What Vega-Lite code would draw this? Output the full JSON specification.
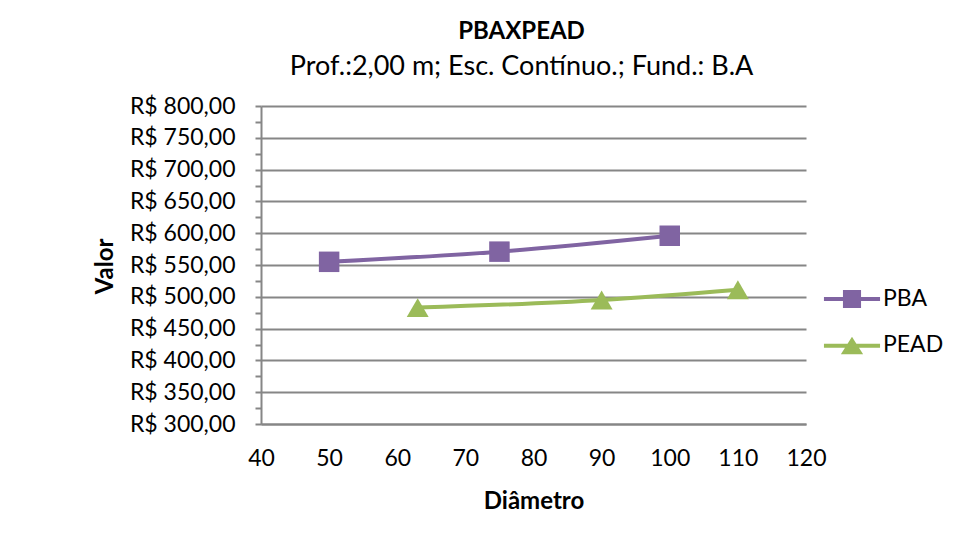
{
  "$schema": "https://vega.github.io/schema/vega-lite/v6.json",
  "width": 545,
  "height": 318,
  "autosize": "none",
  "padding": {"left": 261, "top": 106, "right": 153, "bottom": 114},
  "background": "white",
  "title": {
    "text": "PBAXPEAD",
    "subtitle": "Prof.:2,00 m; Esc. Contínuo.; Fund.: B.A",
    "anchor": "middle",
    "dx": -12,
    "font": "Lato",
    "fontSize": 24,
    "fontWeight": "bold",
    "color": "black",
    "subtitleFont": "Lato",
    "subtitleFontSize": 27,
    "subtitleColor": "black",
    "subtitlePadding": 10,
    "offset": 15
  },
  "data": {
    "values": [
      {"serie": "PBA", "diametro": 50, "valor": 555},
      {"serie": "PBA", "diametro": 75, "valor": 571},
      {"serie": "PBA", "diametro": 100, "valor": 596},
      {"serie": "PEAD", "diametro": 63, "valor": 483},
      {"serie": "PEAD", "diametro": 90, "valor": 495},
      {"serie": "PEAD", "diametro": 110, "valor": 511}
    ]
  },
  "encoding": {
    "x": {
      "field": "diametro",
      "type": "quantitative",
      "scale": {"domain": [40, 120], "nice": false, "zero": false},
      "axis": {
        "title": "Diâmetro",
        "values": [40, 50, 60, 70, 80, 90, 100, 110, 120],
        "grid": false,
        "ticks": false,
        "labelFlush": false,
        "labelOverlap": false,
        "labelPadding": 23,
        "titleY": 77,
        "titleBaseline": "middle"
      }
    },
    "y": {
      "field": "valor",
      "type": "quantitative",
      "scale": {"domain": [300, 800], "nice": false, "zero": false},
      "axis": {
        "title": "Valor",
        "values": [300, 325, 350, 375, 400, 425, 450, 475, 500, 525, 550, 575, 600, 625, 650, 675, 700, 725, 750, 775, 800],
        "labelExpr": "datum.value % 50 === 0 ? 'R$ ' + replace(format(datum.value, '.2f'), '.', ',') : ''",
        "labelFlush": false,
        "labelOverlap": false,
        "grid": true,
        "gridOpacity": {"condition": {"test": "datum.value % 50 === 0", "value": 1}, "value": 0},
        "tickSize": 6,
        "labelPadding": 20,
        "titleX": -156,
        "titleY": 160,
        "titleBaseline": "middle",
        "titleAngle": -90
      }
    }
  },
  "layer": [
    {
      "mark": {"type": "line", "strokeWidth": 4, "interpolate": "monotone"},
      "encoding": {
        "color": {
          "field": "serie",
          "type": "nominal",
          "scale": {"domain": ["PBA", "PEAD"], "range": ["#8064A2", "#9BBB59"]},
          "legend": {
            "title": null,
            "orient": "none",
            "legendX": 574,
            "legendY": 176,
            "symbolStrokeWidth": 4,
            "symbolSize": 900,
            "symbolOpacity": 1,
            "labelFont": "Lato",
            "labelFontSize": 23,
            "labelColor": "black",
            "labelOffset": 14,
            "rowPadding": 13,
            "encode": {
              "symbols": {
                "update": {
                  "shape": {"signal": "datum.value === 'PBA' ? 'M-1.87,0H1.87M-0.47,-0.47H0.47V0.47H-0.47Z' : 'M-1.87,0.05H1.87M0,-0.3L0.5,0.49H-0.5Z'"},
                  "fill": {"signal": "datum.value === 'PBA' ? '#8064A2' : '#9BBB59'"},
                  "stroke": {"signal": "datum.value === 'PBA' ? '#8064A2' : '#9BBB59'"},
                  "fillOpacity": {"value": 1},
                  "strokeWidth": {"value": 4},
                  "opacity": {"value": 1}
                }
              }
            }
          }
        }
      }
    },
    {
      "mark": {"type": "point", "filled": true, "opacity": 1},
      "encoding": {
        "color": {"field": "serie", "type": "nominal"},
        "shape": {
          "condition": {"test": "datum.serie === 'PBA'", "value": "square"},
          "value": "triangle-up"
        },
        "size": {
          "condition": {"test": "datum.serie === 'PBA'", "value": 420},
          "value": 480
        }
      }
    }
  ],
  "config": {
    "font": "Lato",
    "view": {"stroke": null},
    "axis": {
      "labelFont": "Lato",
      "labelFontSize": 23,
      "labelColor": "black",
      "titleFont": "Lato",
      "titleFontSize": 24,
      "titleFontWeight": "bold",
      "titleColor": "black",
      "domainColor": "#868686",
      "domainWidth": 2,
      "tickColor": "#868686",
      "tickWidth": 2,
      "gridColor": "#868686",
      "gridWidth": 2
    }
  }
}
